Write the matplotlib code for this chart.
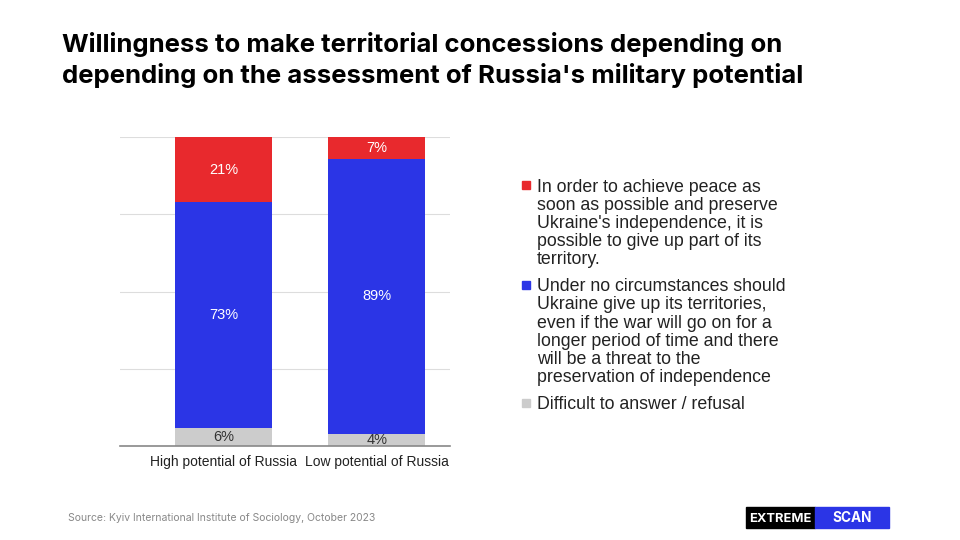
import numpy as np
import matplotlib.pyplot as plt
from matplotlib.patches import Rectangle

# Данные
categories = ["High potential of Russia", "Low potential of Russia"]
difficult = [6, 4]
no_give_up = [73, 89]
give_up = [21, 7]
legend_labels = [
    "In order to achieve peace as\nsoon as possible and preserve\nUkraine's independence, it is\npossible to give up part of its\nterritory.",
    "Under no circumstances should\nUkraine give up its territories,\neven if the war will go on for a\nlonger period of time and there\nwill be a threat to the\npreservation of independence",
    "Difficult to answer / refusal",
]

RED = "#E8292D"
BLUE = "#2B35E6"
GRAY = "#CCCCCC"
legend_colors = [RED, BLUE, GRAY]

plt.rcParams['font.family'] = ['Liberation Sans', 'DejaVu Sans']

fig = plt.figure(figsize=(9.6, 5.4), dpi=100)
ax = fig.add_axes([0.125, 0.174, 0.344, 0.572])

x = np.arange(len(categories))
w = 0.634
b1 = ax.bar(x, difficult, w, color=GRAY)
b2 = ax.bar(x, no_give_up, w, bottom=difficult, color=BLUE)
bottom3 = np.array(difficult) + np.array(no_give_up)
b3 = ax.bar(x, give_up, w, bottom=bottom3, color=RED)

for i in range(len(categories)):
    ax.text(x[i], difficult[i] / 2, f"{difficult[i]}%", ha="center", va="center",
            color="#333333", fontsize=10.5)
    ax.text(x[i], difficult[i] + no_give_up[i] / 2, f"{no_give_up[i]}%", ha="center",
            va="center", color="white", fontsize=10.5)
    ax.text(x[i], bottom3[i] + give_up[i] / 2, f"{give_up[i]}%", ha="center",
            va="center", color="white", fontsize=10.5)

ax.set_xlim(-0.677, 1.479)
ax.set_ylim(0, 100)
ax.set_yticks([0, 25, 50, 75, 100])
ax.set_yticklabels([])
ax.tick_params(left=False, bottom=False)
ax.set_xticks(x)
ax.set_xticklabels(categories, fontsize=10, color="#222222")
ax.tick_params(axis="x", pad=3)
ax.grid(axis="y", color="#DDDDDD", linewidth=0.8)
ax.set_axisbelow(True)
for s in ["left", "right", "top"]:
    ax.spines[s].set_visible(False)
ax.spines["bottom"].set_color("#888888")
ax.spines["bottom"].set_linewidth(1.2)

# Легенда (вручную, маркер на уровне первой строки)
W, H = 960, 540
line_h = 18.2
y = 185
for label, col in zip(legend_labels, legend_colors):
    fig.patches.append(Rectangle((522 / W, 1 - (y + 4) / H), 8 / W, 8 / H,
                                 transform=fig.transFigure, color=col))
    for line in label.split("\n"):
        fig.text(537 / W, 1 - y / H, line, ha="left", va="center_baseline",
                 fontsize=12.8, color="#222222")
        y += line_h
    y += 27 - line_h

# Заголовок
fig.text(0.065, 0.889, "Willingness to make territorial concessions depending on\n"
         "depending on the assessment of Russia's military potential",
         ha="left", va="center", fontsize=18.5, fontweight="bold",
         family=["Inter", "DejaVu Sans"], linespacing=1.3, color="black")

fig.text(0.071, 0.041, "Source: Kyiv International Institute of Sociology, October 2023",
         fontsize=7.5, color="#888888", family=["Inter", "DejaVu Sans"], va="center")

# Логотип
fig.patches.append(Rectangle((746 / W, 1 - 528 / H), 69 / W, 21 / H,
                             transform=fig.transFigure, color="black"))
fig.patches.append(Rectangle((815 / W, 1 - 528 / H), 74 / W, 21 / H,
                             transform=fig.transFigure, color=BLUE))
fig.text(780.5 / W, 1 - 522.5 / H, "EXTREME", ha="center", va="baseline",
         color="white", fontsize=9.3, fontweight="bold", family=["Inter", "DejaVu Sans"])
fig.text(852 / W, 1 - 522.5 / H, "SCAN", ha="center", va="baseline",
         color="white", fontsize=9.8, fontweight="bold", family=["Inter", "DejaVu Sans"])

fig.savefig("out.png", dpi=100)
